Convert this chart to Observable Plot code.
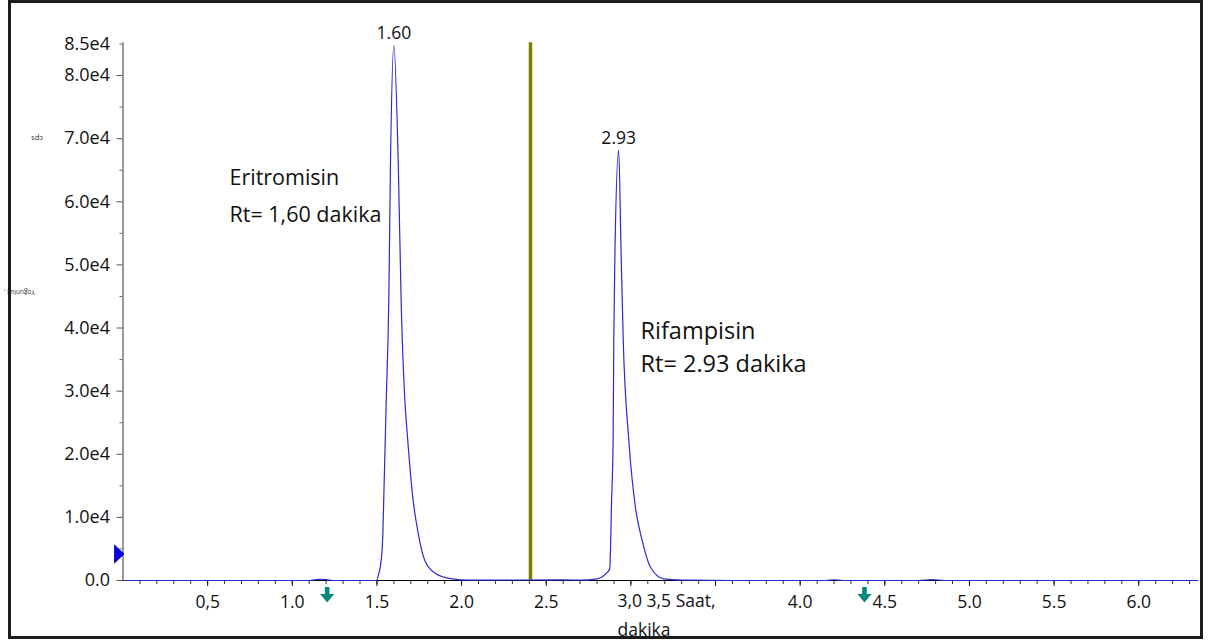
<!DOCTYPE html>
<html>
<head>
<meta charset="utf-8">
<script src="https://cdn.jsdelivr.net/npm/d3@7"></script>
<script src="https://cdn.jsdelivr.net/npm/@observablehq/plot@0.6"></script>
<style>
  html, body { margin: 0; padding: 0; background: #fff; }
  #wrap { position: relative; width: 1208px; height: 640px; overflow: hidden; }
  #border { position: absolute; left: 8px; top: 0px; width: 1189px; height: 633px;
            border: 3px solid #1c1c1c; pointer-events: none; }
  svg { display: block; }
</style>
</head>
<body>
<div id="wrap"><div id="border"></div></div>
<script>
// Chromatogram trace (time in minutes, intensity in cps)
const times = [0, 0.5, 1.0, 1.10, 1.14, 1.17, 1.20, 1.24, 1.30, 1.45,
  1.497, 1.511, 1.525, 1.535, 1.540, 1.555, 1.570, 1.580, 1.600,
  1.626, 1.643, 1.665, 1.679, 1.714, 1.744, 1.783, 1.846, 1.934, 2.05,
  2.30, 2.60, 2.702, 2.801, 2.860, 2.875, 2.881, 2.885, 2.895, 2.899, 2.906, 2.928,
  2.942, 2.955, 2.988, 3.027, 3.067, 3.116, 3.194, 3.352,
  3.60, 4.00, 4.15, 4.20, 4.25, 4.70, 4.78, 4.85, 5.50, 6.35];
const intensity = [0, 0, 0, 0, 150, 200, 150, 0, 0, 0,
  0, 1100, 3160, 7440, 12660, 28480, 44300, 65980, 84800,
  65980, 44300, 28480, 23260, 12660, 7440, 3160, 1100, 300, 50,
  80, 100, 60, 270, 1270, 1820, 6330, 11550, 22150, 37970, 52200, 68200,
  52200, 37970, 22150, 11550, 6330, 2100, 270, 50,
  0, 0, 0, 120, 0, 0, 150, 0, 0, 0];

// Peak apex labels
const peakTimes = [1.60, 2.928];
const peakHeights = [84800, 68200];
const peakLabels = ["1.60", "2.93"];

// Compound annotations
const compoundNames = ["Eritromisin", "Rifampisin"];
const compoundRt = ["Rt= 1,60 dakika", "Rt= 2.93 dakika"];

// Axis ticks
const yMajorTicks = [0, 10000, 20000, 30000, 40000, 50000, 60000, 70000, 80000];
const yMajorLabels = ["0.0", "1.0e4", "2.0e4", "3.0e4", "4.0e4", "5.0e4", "6.0e4", "7.0e4", "8.0e4"];
const yTopTick = [85000];
const yTopLabel = ["8.5e4"];
const yMinorTicks = [5000, 15000, 25000, 35000, 45000, 55000, 65000, 75000];
const xMajorTicks = [0.5, 1.0, 1.5, 2.0, 2.5, 3.0, 3.5, 4.0, 4.5, 5.0, 5.5, 6.0];
const xMajorLabels = ["0,5", "1.0", "1.5", "2.0", "2.5", "", "", "4.0", "4.5", "5.0", "5.5", "6.0"];
const xMinorTicks = d3.range(1, 64).map(i => i / 10);
const xAxisTitle = "3,0 3,5 Saat,\ndakika";
const yAxisUnit = "cps";
const yAxisTitle = "Yoğunluk ,";

// Markers
const cursorTime = [2.407];
const arrowTimes = [1.206, 4.38];
const levelMarker = [4200];

const trace = times.map((t, i) => ({t, v: intensity[i]}));
const peaks = peakTimes.map((t, i) => ({t, v: peakHeights[i], label: peakLabels[i]}));
const yLabelMap = new Map(yMajorTicks.map((d, i) => [d, yMajorLabels[i]]));
const xLabelMap = new Map(xMajorTicks.map((d, i) => [d, xMajorLabels[i]]));

const arrowSymbol = {
  draw(ctx) {
    ctx.moveTo(-2.3, -8); ctx.lineTo(2.3, -8); ctx.lineTo(2.3, -1);
    ctx.lineTo(7, -1); ctx.lineTo(0, 7.5); ctx.lineTo(-7, -1);
    ctx.lineTo(-2.3, -1); ctx.closePath();
  }
};
const triSymbol = {
  draw(ctx) {
    ctx.moveTo(-4.5, -9); ctx.lineTo(5, 0); ctx.lineTo(-4.5, 9); ctx.closePath();
  }
};

const chart = Plot.plot({
  width: 1208,
  height: 640,
  marginLeft: 122.5,
  marginRight: 10.5,
  marginTop: 43.5,
  marginBottom: 60,
  x: {domain: [0, 6.35], label: null},
  y: {domain: [0, 85000], label: null},
  style: {fontFamily: "'Open Sans', sans-serif", fontSize: "17px", color: "#111", background: "white", overflow: "visible"},
  marks: [
    // axes
    Plot.axisX({ticks: xMinorTicks, tickSize: 4, tickFormat: () => "", stroke: "#333", label: null}),
    Plot.axisX({ticks: xMajorTicks, tickSize: 6, tickPadding: 9, tickFormat: d => xLabelMap.get(d), fontSize: 17.5, fill: "#111", label: null}),
    Plot.axisY({ticks: yMinorTicks, tickSize: 3, tickFormat: () => "", stroke: "#666", label: null}),
    Plot.axisY({ticks: yMajorTicks, tickSize: 6, tickPadding: 7, tickFormat: d => yLabelMap.get(d), fontSize: 18, stroke: "#555", fill: "#111", label: null}),
    Plot.axisY({ticks: yTopTick, tickSize: 3, tickPadding: 10, tickFormat: () => yTopLabel[0], fontSize: 18, stroke: "#666", fill: "#111", label: null}),
    Plot.ruleX([0], {y1: 0, y2: 85200, stroke: "#777", strokeWidth: 1.5}),
    Plot.ruleY([0], {stroke: "#000", strokeWidth: 1.2}),
    // y axis rotated labels
    Plot.text([yAxisUnit], {frameAnchor: "left", y: 70000, dx: -80, text: d => d, rotate: 180, fontSize: 7.5, fill: "#333"}),
    Plot.text([yAxisTitle], {frameAnchor: "left", y: 45620, dx: -88, text: d => d, rotate: 180, fontSize: 6.5, fill: "#333"}),
    // x axis title
    Plot.text([xAxisTitle], {x: 2.921, y: 0, text: d => d, textAnchor: "start", lineAnchor: "top", lineHeight: 1.65, dy: 6, fontSize: 17.5, fill: "#111"}),
    // cursor line
    Plot.ruleX(cursorTime, {y1: 0, y2: 85200, stroke: "#808000", strokeWidth: 3.5}),
    // trace
    Plot.line(trace, {x: "t", y: "v", stroke: "#2a2ad6", strokeWidth: 1.2, curve: "monotone-x"}),
    // peak labels
    Plot.text(peaks, {x: "t", y: "v", text: "label", dy: -12, fontSize: 17.5, fill: "#111"}),
    // compound annotations
    Plot.text([compoundNames[0], compoundRt[0]], {x: 0.629, y: (d, i) => [63718, 57865][i], text: d => d, textAnchor: "start", fontSize: 21.5, fill: "#111"}),
    Plot.text([compoundNames[1], compoundRt[1]], {x: 3.057, y: (d, i) => [39400, 34290][i], text: d => d, textAnchor: "start", fontSize: 23.5, fill: "#111"}),
    // markers
    Plot.dot(arrowTimes, {x: d => d, y: 0, dy: 14.5, symbol: arrowSymbol, fill: "#00897b", stroke: "none"}),
    Plot.dot(levelMarker, {x: 0, y: d => d, dx: -4, symbol: triSymbol, fill: "#0000ee", stroke: "#00006e", strokeWidth: 0.8})
  ]
});
document.getElementById("wrap").prepend(chart);
</script>
</body>
</html>
